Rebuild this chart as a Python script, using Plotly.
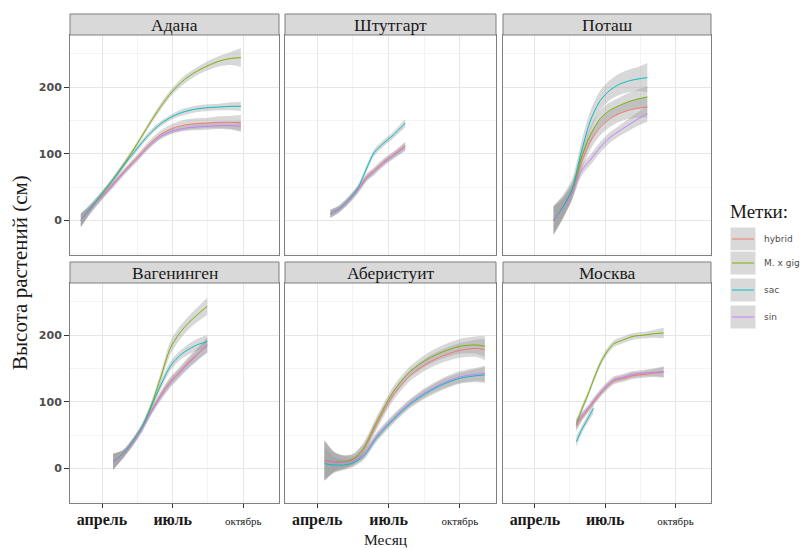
import plotly.graph_objects as go

# ---------------- data ----------------
SERIES = ["hybrid", "M. x gig", "sac", "sin"]
COLORS = ["#F8766D", "#7CAE00", "#00BFC4", "#C77CFF"]
PANELS = ["Адана", "Штутгарт", "Поташ", "Вагенинген", "Аберистуит", "Москва"]
MONTH_TICKS = [4, 7, 10]
MONTH_LABELS = ["<b>апрель</b>", "<b>июль</b>", "<span style='font-size:11px'>октябрь</span>"]
Y_TICKS = [0, 100, 200]

# Адана
adana_x = [3.1, 3.5, 4.0, 4.5, 5.0, 5.5, 6.0, 6.5, 7.0, 7.5, 8.0, 8.5, 9.0, 9.5, 9.9]
adana_hybrid = [0, 16, 36, 56, 76, 95, 114, 129, 138, 143, 145, 146, 147, 147, 146]
adana_gig = [0, 18, 40, 63, 88, 115, 144, 171, 194, 211, 223, 232, 239, 243, 244]
adana_sac = [0, 18, 40, 62, 86, 108, 129, 145, 156, 163, 167, 169, 170, 171, 171]
adana_sin = [0, 16, 35, 54, 74, 92, 111, 126, 134, 138, 140, 141, 142, 142, 141]
adana_hybrid_se = [10, 6, 5, 4, 4, 4, 5, 6, 7, 8, 8, 8, 9, 10, 12]
adana_gig_se = [10, 6, 4, 4, 4, 4, 4, 5, 5, 6, 6, 7, 8, 10, 14]
adana_sac_se = [10, 6, 4, 4, 4, 4, 4, 4, 4, 5, 5, 5, 5, 6, 7]
adana_sin_se = [10, 6, 4, 4, 4, 4, 4, 4, 4, 4, 5, 5, 5, 6, 8]

# Штутгарт
stutt_x = [4.55, 4.9, 5.3, 5.7, 6.1, 6.4, 6.8, 7.2, 7.7]
stutt_hybrid = [10, 17, 30, 46, 66, 75, 88, 98, 112]
stutt_sac = [10, 17, 30, 48, 80, 102, 116, 128, 146]
stutt_sin = [10, 16, 29, 45, 64, 73, 86, 97, 110]
stutt_hybrid_se = [6, 5, 5, 5, 5, 5, 5, 5, 6]
stutt_sac_se = [6, 5, 5, 5, 5, 5, 5, 5, 6]
stutt_sin_se = [6, 5, 5, 5, 5, 5, 5, 5, 6]

# Поташ
potash_x = [4.8, 5.2, 5.6, 6.0, 6.4, 6.8, 7.2, 7.6, 8.0, 8.4, 8.8]
potash_hybrid = [0, 19, 44, 88, 120, 140, 152, 160, 165, 168, 170]
potash_gig = [0, 20, 46, 95, 130, 153, 165, 172, 178, 182, 185]
potash_sac = [0, 20, 48, 105, 152, 180, 195, 204, 209, 212, 214]
potash_sin = [0, 18, 42, 75, 92, 110, 124, 134, 143, 152, 160]
potash_hybrid_se = [20, 15, 12, 12, 12, 12, 12, 12, 13, 14, 16]
potash_gig_se = [22, 16, 12, 12, 12, 12, 12, 12, 13, 14, 16]
potash_sac_se = [22, 18, 15, 15, 15, 15, 15, 16, 17, 18, 22]
potash_sin_se = [20, 14, 10, 8, 8, 8, 8, 8, 9, 10, 12]

# Вагенинген
wagen_x = [4.47, 4.9, 5.3, 5.7, 6.1, 6.5, 6.9, 7.3, 7.7, 8.1, 8.47]
wagen_hybrid = [10, 21, 38, 60, 86, 110, 130, 145, 160, 173, 185]
wagen_gig = [10, 22, 40, 62, 95, 137, 180, 203, 219, 232, 243]
wagen_sac = [10, 22, 40, 62, 93, 125, 153, 169, 179, 186, 190]
wagen_sin = [10, 21, 38, 59, 85, 108, 128, 143, 158, 172, 184]
wagen_hybrid_se = [12, 6, 5, 5, 5, 6, 7, 7, 8, 9, 11]
wagen_gig_se = [12, 6, 5, 5, 6, 8, 10, 10, 10, 11, 13]
wagen_sac_se = [12, 6, 5, 5, 5, 6, 7, 7, 8, 9, 10]
wagen_sin_se = [12, 6, 5, 5, 5, 6, 7, 7, 8, 9, 11]

# Аберистуит
aber_x = [4.3, 4.7, 5.1, 5.5, 5.94, 6.5, 7.2, 7.9, 8.6, 9.3, 10.0, 10.7, 11.05]
aber_hybrid = [11, 9, 9, 13, 28, 66, 110, 139, 157, 169, 177, 180, 178]
aber_gig = [12, 10, 10, 14, 30, 70, 115, 145, 163, 175, 183, 185, 183]
aber_sac = [7, 5, 5, 8, 18, 46, 73, 96, 113, 126, 135, 139, 140]
aber_sin = [12, 10, 9, 11, 20, 48, 75, 98, 115, 128, 137, 141, 142]
aber_hybrid_se = [30, 15, 10, 8, 8, 8, 8, 8, 9, 10, 11, 13, 16]
aber_gig_se = [30, 15, 10, 8, 8, 8, 8, 8, 9, 10, 11, 13, 16]
aber_sac_se = [25, 12, 8, 6, 6, 6, 6, 6, 7, 8, 8, 10, 12]
aber_sin_se = [30, 15, 10, 7, 6, 6, 6, 6, 7, 8, 9, 10, 12]

# Москва
moscow_x = [5.77, 6.0, 6.27, 6.55, 6.83, 7.1, 7.38, 7.8, 8.2, 8.7, 9.1, 9.5]
moscow_hybrid = [64, 76, 88, 101, 113, 123, 131, 135, 139, 141, 143, 144]
moscow_gig = [66, 88, 111, 137, 160, 176, 187, 193, 198, 200, 202, 203]
moscow_sin = [66, 78, 90, 103, 115, 125, 133, 137, 141, 143, 144, 145]
moscow_hybrid_se = [8, 6, 5, 5, 5, 5, 5, 5, 5, 5, 6, 8]
moscow_gig_se = [8, 6, 5, 5, 5, 5, 5, 5, 5, 5, 6, 8]
moscow_sin_se = [8, 6, 5, 5, 5, 5, 5, 5, 5, 5, 6, 8]
moscow_sac_x = [5.77, 6.0, 6.27, 6.5]
moscow_sac = [40, 58, 75, 90]
moscow_sac_se = [8, 6, 6, 8]

# ---------------- layout geometry ----------------
W, H = 810, 548
COL_PX = [(70, 279), (285, 496), (503, 711)]
ROW_PX = [(35, 255), (283, 503)]
STRIP_PX = [(14, 35), (262, 283)]
X_RANGE = [2.64, 11.52]
Y_RANGE = [-52, 278]
RIBBON = "rgba(153,153,153,0.38)"
SERIF = "Liberation Serif"

panel_data = [
    [(adana_x, adana_hybrid, adana_hybrid_se, 0), (adana_x, adana_gig, adana_gig_se, 1),
     (adana_x, adana_sac, adana_sac_se, 2), (adana_x, adana_sin, adana_sin_se, 3)],
    [(stutt_x, stutt_hybrid, stutt_hybrid_se, 0), (stutt_x, stutt_sac, stutt_sac_se, 2),
     (stutt_x, stutt_sin, stutt_sin_se, 3)],
    [(potash_x, potash_hybrid, potash_hybrid_se, 0), (potash_x, potash_gig, potash_gig_se, 1),
     (potash_x, potash_sac, potash_sac_se, 2), (potash_x, potash_sin, potash_sin_se, 3)],
    [(wagen_x, wagen_hybrid, wagen_hybrid_se, 0), (wagen_x, wagen_gig, wagen_gig_se, 1),
     (wagen_x, wagen_sac, wagen_sac_se, 2), (wagen_x, wagen_sin, wagen_sin_se, 3)],
    [(aber_x, aber_hybrid, aber_hybrid_se, 0), (aber_x, aber_gig, aber_gig_se, 1),
     (aber_x, aber_sac, aber_sac_se, 2), (aber_x, aber_sin, aber_sin_se, 3)],
    [(moscow_x, moscow_hybrid, moscow_hybrid_se, 0), (moscow_x, moscow_gig, moscow_gig_se, 1),
     (moscow_sac_x, moscow_sac, moscow_sac_se, 2), (moscow_x, moscow_sin, moscow_sin_se, 3)],
]

fig = go.Figure()
layout = {}
shapes = []
annotations = []

for p in range(6):
    r, c = divmod(p, 3)
    sfx = "" if p == 0 else str(p + 1)
    xa, ya = "x" + sfx, "y" + sfx
    # ribbons
    for xs, ys, se, si in panel_data[p]:
        lo = [v - e for v, e in zip(ys, se)]
        hi = [v + e for v, e in zip(ys, se)]
        fig.add_trace(go.Scatter(x=xs, y=lo, xaxis=xa, yaxis=ya, mode="lines",
                                 line=dict(width=0, shape="spline", smoothing=0.8),
                                 showlegend=False, hoverinfo="skip"))
        fig.add_trace(go.Scatter(x=xs, y=hi, xaxis=xa, yaxis=ya, mode="lines",
                                 line=dict(width=0, shape="spline", smoothing=0.8),
                                 fill="tonexty", fillcolor=RIBBON,
                                 showlegend=False, hoverinfo="skip"))
    # lines
    for xs, ys, se, si in panel_data[p]:
        fig.add_trace(go.Scatter(x=xs, y=ys, xaxis=xa, yaxis=ya, mode="lines",
                                 line=dict(width=1, color=COLORS[si], shape="spline", smoothing=0.8),
                                 name=SERIES[si], showlegend=False))

    x0, x1 = COL_PX[c]
    y0, y1 = ROW_PX[r]
    bottom = r == 1
    left = c == 0
    layout["xaxis" + sfx] = dict(
        domain=[x0 / W, x1 / W], range=X_RANGE, anchor=ya,
        tickvals=MONTH_TICKS, ticktext=MONTH_LABELS,
        showticklabels=bottom, ticks="outside" if bottom else "", ticklen=4,
        tickcolor="#333333", ticklabelstandoff=-2,
        tickfont=dict(family=SERIF, size=16, color="#1a1a1a"),
        showgrid=True, gridcolor="#e6e6e6", gridwidth=1,
        minor=dict(tickvals=[2.5, 5.5, 8.5, 11.5], showgrid=True, gridcolor="#f3f3f3", ticks=""),
        showline=True, mirror=True, linecolor="#7f7f7f", linewidth=1,
        zeroline=False, fixedrange=True,
    )
    layout["yaxis" + sfx] = dict(
        domain=[1 - y1 / H, 1 - y0 / H], range=Y_RANGE, anchor=xa,
        tickvals=Y_TICKS, showticklabels=left, ticks="outside" if left else "", ticklen=5,
        tickcolor="#333333",
        tickfont=dict(family="DejaVu Sans", size=11, color="#4d4d4d", weight="bold"),
        showgrid=True, gridcolor="#e6e6e6", gridwidth=1,
        minor=dict(tickvals=[-50, 50, 150, 250], showgrid=True, gridcolor="#f3f3f3", ticks=""),
        showline=True, mirror=True, linecolor="#7f7f7f", linewidth=1,
        zeroline=False, fixedrange=True,
    )
    s0, s1 = STRIP_PX[r]
    shapes.append(dict(type="rect", xref="paper", yref="paper",
                       x0=x0 / W, x1=x1 / W, y0=1 - s1 / H, y1=1 - s0 / H,
                       fillcolor="#d9d9d9", line=dict(color="#7f7f7f", width=1)))
    annotations.append(dict(text=PANELS[p], xref="paper", yref="paper",
                            x=(x0 + x1) / 2 / W, y=1 - (s0 + s1 + 1) / 2 / H,
                            showarrow=False, xanchor="center", yanchor="middle",
                            font=dict(family=SERIF, size=17.5, color="#1a1a1a")))

# axis titles
annotations.append(dict(text="Месяц", xref="paper", yref="paper", x=385 / W, y=1 - 539 / H,
                        showarrow=False, xanchor="center", yanchor="middle",
                        font=dict(family=SERIF, size=15.5, color="#1a1a1a")))
annotations.append(dict(text="Высота растений (см)", xref="paper", yref="paper",
                        x=20 / W, y=1 - 273 / H, textangle=-90,
                        showarrow=False, xanchor="center", yanchor="middle",
                        font=dict(family=SERIF, size=21, color="#1a1a1a")))

# legend (drawn manually, ggplot style keys)
annotations.append(dict(text="Метки:", xref="paper", yref="paper", x=728 / W, y=1 - 211 / H,
                        showarrow=False, xanchor="left", yanchor="middle",
                        font=dict(family=SERIF, size=19, color="#1a1a1a")))
KEY_Y = [239, 263, 290, 317]
for i, name in enumerate(SERIES):
    cy = KEY_Y[i]
    shapes.append(dict(type="rect", xref="paper", yref="paper",
                       x0=730 / W, x1=756 / W, y0=1 - (cy + 12) / H, y1=1 - (cy - 12) / H,
                       fillcolor="#d9d9d9", line=dict(color="#ffffff", width=1)))
    shapes.append(dict(type="line", xref="paper", yref="paper",
                       x0=732 / W, x1=754 / W, y0=1 - cy / H, y1=1 - cy / H,
                       line=dict(color=COLORS[i], width=1)))
    annotations.append(dict(text=name, xref="paper", yref="paper", x=762 / W, y=1 - cy / H,
                            showarrow=False, xanchor="left", yanchor="middle",
                            font=dict(family="DejaVu Sans", size=9, color="#4d4d4d")))

fig.update_layout(
    width=W, height=H,
    margin=dict(l=0, r=0, t=0, b=0, autoexpand=False),
    paper_bgcolor="white", plot_bgcolor="white",
    showlegend=False,
    shapes=shapes, annotations=annotations,
    **layout,
)

fig.write_html("out.html", config={"displayModeBar": False},
               post_script="document.body.style.margin='0px';")
